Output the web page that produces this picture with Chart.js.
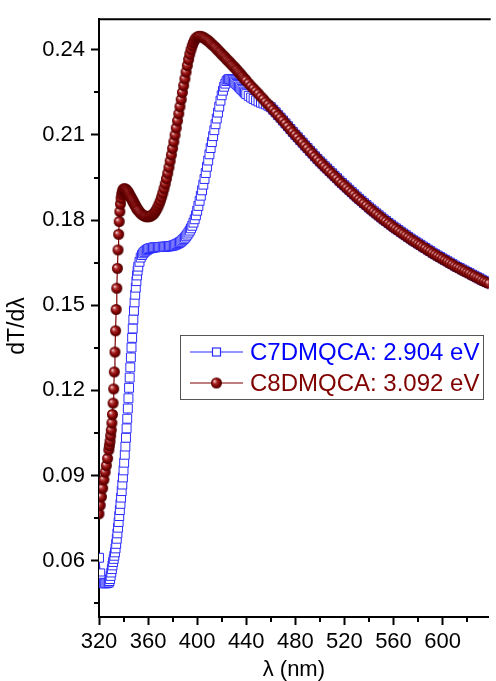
<!DOCTYPE html>
<html>
<head>
<meta charset="utf-8">
<script src="https://cdn.jsdelivr.net/npm/chart.js@4.4.0/dist/chart.umd.min.js"></script>
<style>
  html, body { margin: 0; padding: 0; background: #fff; }
  #wrap { width: 496px; height: 681px; }
</style>
</head>
<body>
<div id="wrap"><canvas id="grafico" width="496" height="681"></canvas></div>
<script>
// Longitud de onda (nm)
const lambdas = [
  320, 321, 322, 323, 324, 325, 326, 327, 328,
  328.5, 329, 329.5, 330, 330.5, 331, 331.5, 332, 332.5, 333, 333.5, 334, 334.5, 335, 335.5, 336,
  336.5, 337, 337.5, 338, 338.5, 339, 339.5, 340, 340.5, 341, 341.5, 342, 342.5, 343, 343.5, 344,
  344.5, 345, 345.5, 346, 346.5, 347, 347.5, 348, 348.5, 349, 349.5, 350, 350.5, 351, 351.5, 352,
  353, 354, 355, 356, 357, 358, 359, 360, 361, 362, 363, 364, 365, 366, 367, 368, 369, 370,
  371, 372, 373, 374, 375, 376, 377, 378, 379, 380, 381, 382, 383, 384, 385, 386, 387, 388,
  389, 390, 391, 392, 393, 394, 395, 396, 397, 398, 399, 400, 401, 402, 403, 404, 405, 406,
  407, 408, 409, 410, 411, 412, 413, 414, 415, 416, 417, 418, 419, 420, 421, 422, 423, 424,
  425, 426, 427, 428, 429, 430, 431, 432, 433, 434, 435, 436, 437, 438, 439, 440,
  442, 444, 446, 448, 450, 452, 454, 456, 458, 460, 462, 464, 466, 468, 470, 472, 474, 476, 478, 480,
  482, 484, 486, 488, 490, 492, 494, 496, 498, 500, 502, 504, 506, 508, 510, 512, 514, 516, 518, 520,
  522, 524, 526, 528, 530, 532, 534, 536, 538, 540, 542, 544, 546, 548, 550, 552, 554, 556, 558, 560,
  562, 564, 566, 568, 570, 572, 574, 576, 578, 580, 582, 584, 586, 588, 590, 592, 594, 596, 598, 600,
  602, 604, 606, 608, 610, 612, 614, 616, 618, 620, 622, 624, 626, 628, 630, 632, 634, 636, 638, 640
];

// dT/dλ  C7DMQCA
const c7dmqca = [
  0.0610, 0.0555, 0.0530, 0.0522, 0.0520, 0.0520, 0.0520, 0.0521, 0.0523,
  0.0528, 0.0535, 0.0546, 0.0558, 0.0570, 0.0583, 0.0595, 0.0606, 0.0617, 0.0629, 0.0643, 0.0659,
  0.0677, 0.0696, 0.0716, 0.0736, 0.0757, 0.0778, 0.0800, 0.0822, 0.0845, 0.0868, 0.0893, 0.0918,
  0.0945, 0.0973, 0.1002, 0.1033, 0.1066, 0.1100, 0.1136, 0.1172, 0.1209, 0.1245, 0.1281, 0.1316,
  0.1351, 0.1385, 0.1418, 0.1450, 0.1481, 0.1510, 0.1537, 0.1562, 0.1585, 0.1605, 0.1622, 0.1636,
  0.1653, 0.1668, 0.1677, 0.1683, 0.1688, 0.1692, 0.1695, 0.1698, 0.1700, 0.1701, 0.1702, 0.1703,
  0.1704, 0.1704, 0.1705, 0.1705, 0.1705, 0.1705, 0.1706, 0.1706, 0.1706, 0.1706, 0.1707, 0.1707,
  0.1708, 0.1708, 0.1709, 0.1710, 0.1711, 0.1713, 0.1715, 0.1717, 0.1719, 0.1722, 0.1725, 0.1729,
  0.1733, 0.1738, 0.1743, 0.1749, 0.1756, 0.1763, 0.1771, 0.1780, 0.1791, 0.1803, 0.1817, 0.1833,
  0.1850, 0.1868, 0.1886, 0.1905, 0.1925, 0.1945, 0.1966, 0.1988, 0.2010, 0.2032, 0.2054, 0.2075,
  0.2096, 0.2117, 0.2138, 0.2158, 0.2179, 0.2200, 0.2221, 0.2240, 0.2256, 0.2270, 0.2281, 0.2290,
  0.2295, 0.2297, 0.2297, 0.2295, 0.2292, 0.2288, 0.2284, 0.2280, 0.2276, 0.2271, 0.2267, 0.2262,
  0.2258, 0.2253, 0.2249, 0.2244,
  0.2238, 0.2232, 0.2227, 0.2222, 0.2218, 0.2214, 0.2211, 0.2208, 0.2203, 0.2198,
  0.2189, 0.2180, 0.2170, 0.2161, 0.2151, 0.2141, 0.2131, 0.2121, 0.2111, 0.2101,
  0.2092, 0.2082, 0.2073, 0.2063, 0.2054, 0.2044, 0.2035, 0.2025, 0.2016, 0.2007,
  0.1999, 0.1990, 0.1982, 0.1973, 0.1965, 0.1956, 0.1948, 0.1939, 0.1931, 0.1923,
  0.1915, 0.1907, 0.1899, 0.1891, 0.1883, 0.1875, 0.1868, 0.1860, 0.1853, 0.1845,
  0.1838, 0.1831, 0.1824, 0.1817, 0.1810, 0.1803, 0.1797, 0.1790, 0.1784, 0.1777,
  0.1771, 0.1765, 0.1759, 0.1753, 0.1747, 0.1741, 0.1735, 0.1729, 0.1724, 0.1718,
  0.1713, 0.1707, 0.1702, 0.1696, 0.1691, 0.1685, 0.1680, 0.1675, 0.1670, 0.1665,
  0.1660, 0.1655, 0.1650, 0.1645, 0.1640, 0.1635, 0.1631, 0.1626, 0.1622, 0.1617,
  0.1613, 0.1608, 0.1604, 0.1599, 0.1595, 0.1590, 0.1586, 0.1582, 0.1578, 0.1574
];

// dT/dλ  C8DMQCA
const c8dmqca = [
  0.0765, 0.0795, 0.0825, 0.0855, 0.0885, 0.0912, 0.0935, 0.0960, 0.0990,
  0.1005, 0.1020, 0.1040, 0.1060, 0.1085, 0.1115, 0.1155, 0.1205, 0.1265, 0.1335, 0.1410, 0.1485,
  0.1560, 0.1630, 0.1695, 0.1750, 0.1795, 0.1830, 0.1857, 0.1877, 0.1891, 0.1900, 0.1906, 0.1909,
  0.1910, 0.1910, 0.1909, 0.1907, 0.1905, 0.1902, 0.1899, 0.1896, 0.1892, 0.1888, 0.1884, 0.1880,
  0.1876, 0.1872, 0.1868, 0.1864, 0.1860, 0.1856, 0.1852, 0.1848, 0.1844, 0.1840, 0.1837, 0.1834,
  0.1829, 0.1824, 0.1820, 0.1817, 0.1815, 0.1813, 0.1812, 0.1812, 0.1813, 0.1814, 0.1817, 0.1820,
  0.1825, 0.1831, 0.1838, 0.1847, 0.1857, 0.1868, 0.1881, 0.1895, 0.1911, 0.1928, 0.1946, 0.1965,
  0.1986, 0.2008, 0.2030, 0.2053, 0.2076, 0.2100, 0.2125, 0.2150, 0.2175, 0.2200, 0.2225, 0.2250,
  0.2274, 0.2298, 0.2322, 0.2345, 0.2366, 0.2385, 0.2401, 0.2415, 0.2426, 0.2435, 0.2441, 0.2445,
  0.2447, 0.2448, 0.2447, 0.2446, 0.2444, 0.2441, 0.2438, 0.2435, 0.2432, 0.2428, 0.2424, 0.2420,
  0.2416, 0.2412, 0.2408, 0.2403, 0.2399, 0.2394, 0.2390, 0.2385, 0.2381, 0.2376, 0.2372, 0.2367,
  0.2363, 0.2358, 0.2354, 0.2349, 0.2345, 0.2340, 0.2336, 0.2331, 0.2326, 0.2321, 0.2316, 0.2311,
  0.2306, 0.2301, 0.2296, 0.2291,
  0.2282, 0.2272, 0.2263, 0.2254, 0.2245, 0.2235, 0.2226, 0.2216, 0.2207, 0.2198,
  0.2188, 0.2179, 0.2169, 0.2160, 0.2150, 0.2140, 0.2130, 0.2120, 0.2110, 0.2100,
  0.2091, 0.2081, 0.2072, 0.2062, 0.2053, 0.2043, 0.2034, 0.2024, 0.2015, 0.2006,
  0.1997, 0.1988, 0.1980, 0.1971, 0.1963, 0.1954, 0.1946, 0.1937, 0.1929, 0.1921,
  0.1913, 0.1905, 0.1897, 0.1889, 0.1881, 0.1873, 0.1866, 0.1858, 0.1851, 0.1843,
  0.1836, 0.1829, 0.1822, 0.1815, 0.1808, 0.1801, 0.1795, 0.1788, 0.1782, 0.1775,
  0.1769, 0.1763, 0.1757, 0.1751, 0.1745, 0.1739, 0.1733, 0.1727, 0.1722, 0.1716,
  0.1711, 0.1705, 0.1700, 0.1694, 0.1689, 0.1683, 0.1678, 0.1673, 0.1668, 0.1663,
  0.1658, 0.1653, 0.1648, 0.1643, 0.1638, 0.1633, 0.1629, 0.1624, 0.1620, 0.1615,
  0.1611, 0.1606, 0.1602, 0.1597, 0.1593, 0.1588, 0.1584, 0.1580, 0.1576, 0.1572
];

const etiquetas = ['C7DMQCA: 2.904 eV', 'C8DMQCA: 3.092 eV'];
const xTicks = [320, 360, 400, 440, 480, 520, 560, 600];
const xMenores = [340, 380, 420, 460, 500, 540, 580, 620];
const yTicks = [0.06, 0.09, 0.12, 0.15, 0.18, 0.21, 0.24];
const yMenores = [0.045, 0.075, 0.105, 0.135, 0.165, 0.195, 0.225];

const AZUL = '#2b2bff';
const GRANATE = '#7a0000';
const FUENTE = "'Liberation Sans', Arial, sans-serif";

// esfera con brillo para los puntos de C8DMQCA
function esfera(r) {
    const c = document.createElement('canvas');
    const s = Math.ceil(r * 2) + 2;
    c.width = c.height = s;
    const g = c.getContext('2d');
    const m = s / 2;
    const grad = g.createRadialGradient(m - r * 0.4, m - r * 0.35, r * 0.08, m, m, r);
    grad.addColorStop(0, '#f4d0d0');
    grad.addColorStop(0.3, '#b03030');
    grad.addColorStop(0.7, '#7a0000');
    grad.addColorStop(1, '#4a0000');
    g.fillStyle = grad;
    g.beginPath();
    g.arc(m, m, r, 0, Math.PI * 2);
    g.fill();
    return c;
}
const bola = esfera(5.5);

const puntos = serie => lambdas.map((x, i) => ({ x: x, y: serie[i] }));

// borde superior, ticks menores, título del eje y y leyenda
const extras = {
    id: 'extras',
    afterDraw(chart) {
        const { ctx, chartArea, scales } = chart;
        ctx.save();
        ctx.strokeStyle = '#000';
        ctx.lineWidth = 2;
        ctx.beginPath();
        ctx.moveTo(chartArea.left, chartArea.top);
        ctx.lineTo(chartArea.right + 2, chartArea.top);
        ctx.stroke();

        ctx.beginPath();
        yMenores.forEach(v => {
            const py = Math.round(scales.y.getPixelForValue(v));
            ctx.moveTo(chartArea.left, py);
            ctx.lineTo(chartArea.left - 5, py);
        });
        xMenores.forEach(v => {
            const px = Math.round(scales.x.getPixelForValue(v));
            ctx.moveTo(px, chartArea.bottom);
            ctx.lineTo(px, chartArea.bottom + 5);
        });
        ctx.stroke();

        // título del eje y
        ctx.save();
        ctx.translate(18, 326);
        ctx.rotate(-Math.PI / 2);
        ctx.font = '23px ' + FUENTE;
        ctx.fillStyle = '#000';
        ctx.textAlign = 'center';
        ctx.textBaseline = 'middle';
        ctx.fillText('dT/dλ', 0, 0);
        ctx.restore();

        // leyenda
        const bx = 180, by = 335, bw = 303, bh = 64;
        ctx.fillStyle = '#fff';
        ctx.fillRect(bx, by, bw, bh);
        ctx.strokeStyle = '#555';
        ctx.lineWidth = 1;
        ctx.strokeRect(bx + 0.5, by + 0.5, bw, bh);

        ctx.font = '24px ' + FUENTE;
        ctx.textBaseline = 'middle';
        ctx.textAlign = 'left';

        // fila 1: C7DMQCA
        let fy = 352;
        ctx.strokeStyle = AZUL;
        ctx.lineWidth = 1.2;
        ctx.beginPath();
        ctx.moveTo(190, fy);
        ctx.lineTo(243, fy);
        ctx.stroke();
        ctx.fillStyle = '#fff';
        ctx.fillRect(212, fy - 4.5, 9, 9);
        ctx.strokeRect(212.5, fy - 4, 8, 8);
        ctx.fillStyle = '#0000ff';
        ctx.fillText(etiquetas[0], 250, fy + 1);

        // fila 2: C8DMQCA
        fy = 383;
        ctx.strokeStyle = GRANATE;
        ctx.beginPath();
        ctx.moveTo(190, fy);
        ctx.lineTo(243, fy);
        ctx.stroke();
        ctx.drawImage(bola, 216.5 - bola.width / 2, fy - bola.height / 2);
        ctx.fillStyle = '#800000';
        ctx.fillText(etiquetas[1], 250, fy + 1);
        ctx.restore();
    }
};

const ctx = document.getElementById('grafico').getContext('2d');
new Chart(ctx, {
    type: 'line',
    data: {
        datasets: [{
            label: etiquetas[1],
            data: puntos(c8dmqca),
            borderColor: GRANATE,
            borderWidth: 1.2,
            pointStyle: bola,
            pointRadius: 5.5,
            tension: 0,
            clip: 0
        }, {
            label: etiquetas[0],
            data: puntos(c7dmqca),
            borderColor: AZUL,
            borderWidth: 1,
            pointStyle: 'rect',
            pointRadius: 6.3,
            pointBorderWidth: 1,
            pointBorderColor: AZUL,
            pointBackgroundColor: '#fff',
            tension: 0,
            clip: 0
        }]
    },
    options: {
        responsive: false,
        animation: false,
        events: [],
        layout: { padding: { top: 13, right: 0, left: 0, bottom: 0 } },
        plugins: {
            legend: { display: false },
            tooltip: { enabled: false }
        },
        scales: {
            x: {
                type: 'linear',
                min: 320,
                max: 637.6,
                afterFit: s => { s.height = 64; },
                afterBuildTicks: s => { s.ticks = xTicks.map(v => ({ value: v })); },
                grid: { display: true, drawOnChartArea: false, drawTicks: true, tickLength: 8, tickWidth: 2, tickColor: '#000' },
                border: { display: true, color: '#000', width: 2 },
                ticks: {
                    color: '#000',
                    font: { family: FUENTE, size: 22 },
                    padding: 4,
                    maxRotation: 0,
                    autoSkip: false,
                    callback: v => String(v)
                },
                title: {
                    display: true,
                    text: 'λ (nm)',
                    color: '#000',
                    font: { family: FUENTE, size: 22, lineHeight: 1.0 },
                    padding: { top: 0, bottom: 0 }
                }
            },
            y: {
                min: 0.04012,
                max: 0.25081,
                afterFit: s => { s.width = 99; },
                afterBuildTicks: s => { s.ticks = yTicks.map(v => ({ value: v })); },
                grid: { display: true, drawOnChartArea: false, drawTicks: true, tickLength: 8, tickWidth: 2, tickColor: '#000' },
                border: { display: true, color: '#000', width: 2 },
                ticks: {
                    color: '#000',
                    font: { family: FUENTE, size: 22 },
                    padding: 6,
                    autoSkip: false,
                    callback: v => v.toFixed(2)
                },
                title: { display: false }
            }
        }
    },
    plugins: [extras]
});
</script>
</body>
</html>
